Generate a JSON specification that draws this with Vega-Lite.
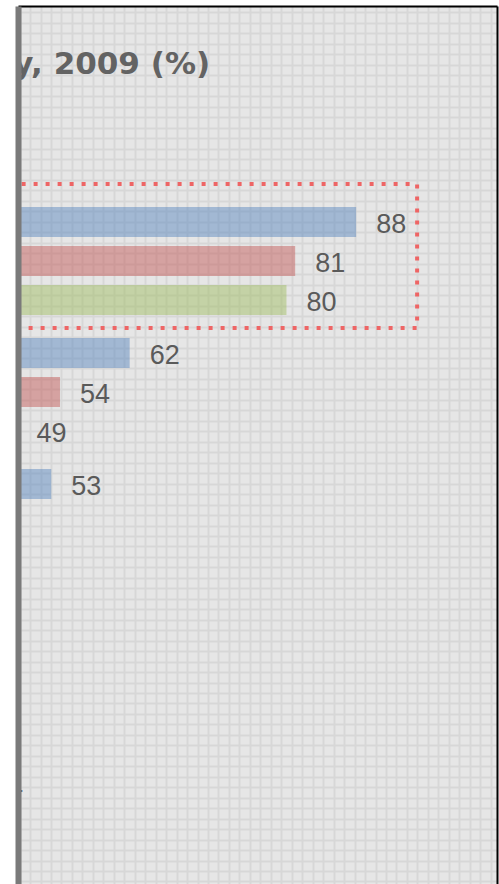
{
  "$schema": "https://vega.github.io/schema/vega-lite/v6.json",
  "width": 479,
  "height": 878,
  "autosize": "none",
  "padding": {"left": 18, "top": 6, "right": 2, "bottom": 0},
  "background": "white",
  "config": {
    "view": {"fill": "#e6e6e6", "stroke": null},
    "axis": {"labels": false, "ticks": false, "title": null}
  },
  "resolve": {
    "scale": {"x": "independent", "y": "independent"},
    "axis": {"x": "independent", "y": "independent"}
  },
  "layer": [
    {
      "data": {
        "values": [
          {"group": "Group 1", "series": "Series 1", "value": 88},
          {"group": "Group 1", "series": "Series 2", "value": 81},
          {"group": "Group 1", "series": "Series 3", "value": 80},
          {"group": "Group 2", "series": "Series 1", "value": 62},
          {"group": "Group 2", "series": "Series 2", "value": 54},
          {"group": "Group 2", "series": "Series 3", "value": 49},
          {"group": "Group 3", "series": "Series 1", "value": 53},
          {"group": "Group 5", "series": "Series 2", "value": 44}
        ]
      },
      "layer": [
        {
          "mark": {"type": "bar", "clip": true, "opacity": 0.45},
          "encoding": {
            "x": {
              "field": "value", "type": "quantitative",
              "scale": {"domain": [49.18, 104.17], "nice": false, "zero": false},
              "axis": {"orient": "top", "grid": false, "domain": true, "domainColor": "#000000", "domainWidth": 2, "zindex": 1}
            },
            "x2": {"datum": 0},
            "y": {
              "field": "group", "type": "nominal",
              "scale": {"domain": ["Group 1", "Group 2", "Group 3", "Group 4", "Group 5"], "paddingInner": 0.1756, "paddingOuter": 0.9388, "align": 0.817},
              "axis": {"orient": "left", "grid": false, "domain": true, "domainColor": "#7a7a7a", "domainWidth": 6, "zindex": 1}
            },
            "yOffset": {
              "field": "series", "type": "nominal",
              "scale": {"domain": ["Series 1", "Series 2", "Series 3"], "paddingInner": 0.23, "paddingOuter": 0}
            },
            "color": {
              "field": "series", "type": "nominal",
              "scale": {"domain": ["Series 1", "Series 2", "Series 3"], "range": ["#4F81BD", "#C0504D", "#9BBB59"]},
              "legend": null
            }
          }
        },
        {
          "mark": {"type": "text", "clip": true, "align": "left", "baseline": "middle", "dx": 20, "dy": 3, "font": "Liberation Sans", "fontSize": 27, "color": "#5a5a5a"},
          "encoding": {
            "x": {"field": "value", "type": "quantitative"},
            "y": {"field": "group", "type": "nominal"},
            "yOffset": {"field": "series", "type": "nominal"},
            "text": {"field": "value", "type": "quantitative", "format": ".0f"}
          }
        },
        {
          "data": {"values": [{"group": "Group 1"}]},
          "mark": {"type": "rect", "clip": true, "fill": null, "fillOpacity": 0, "stroke": "#ee6565", "strokeWidth": 4, "strokeDash": [4, 8]},
          "encoding": {
            "x": {"datum": 0, "type": "quantitative"},
            "x2": {"datum": 95},
            "y": {"field": "group", "type": "nominal", "bandPosition": -0.213},
            "y2": {"field": "group", "bandPosition": 1.12}
          }
        }
      ]
    },
    {
      "data": {"values": [{"title": "y, 2009 (%)"}]},
      "mark": {"type": "text", "clip": true, "align": "right", "baseline": "alphabetic", "font": "DejaVu Sans", "fontWeight": "bold", "fontSize": 31, "color": "#636363"},
      "encoding": {
        "text": {"field": "title", "type": "nominal"},
        "x": {
          "datum": 18.2, "type": "quantitative",
          "scale": {"domain": [-0.15, 45.6], "nice": false, "zero": false},
          "axis": {"orient": "bottom", "grid": true, "tickCount": 46, "domain": false, "gridColor": "#d7d7d7", "gridWidth": 2, "zindex": 0}
        },
        "y": {
          "datum": 6.85, "type": "quantitative",
          "scale": {"domain": [0.382, 84.24], "reverse": true, "nice": false, "zero": false},
          "axis": {"orient": "right", "grid": true, "tickCount": 85, "domain": true, "domainColor": "#000000", "domainWidth": 2, "gridColor": "#d7d7d7", "gridWidth": 2, "zindex": 0}
        }
      }
    }
  ]
}
